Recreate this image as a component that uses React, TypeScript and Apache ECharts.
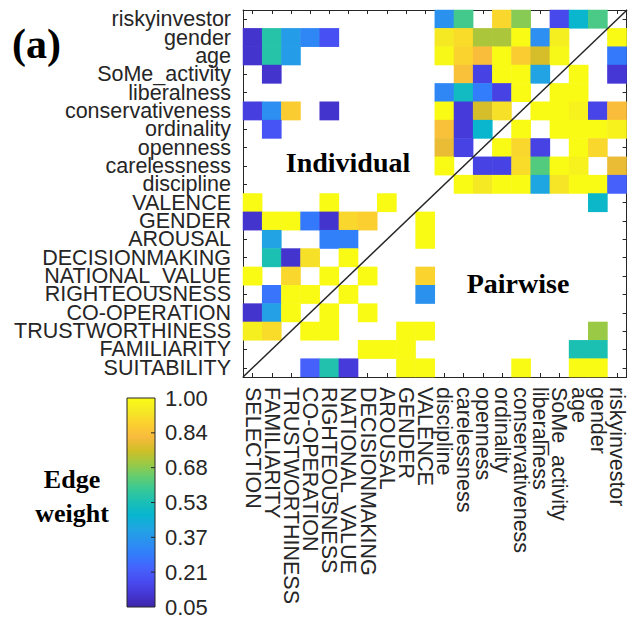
import React, { useEffect, useRef } from "react";
import * as echarts from "echarts";

const xCategories = [
  "SELECTION", "FAMILIARITY", "TRUSTWORTHINESS", "CO-OPERATION", "RIGHTEOUSNESS",
  "NATIONAL_VALUE", "DECISIONMAKING", "AROUSAL", "GENDER", "VALENCE",
  "discipline", "carelessness", "openness", "ordinality", "conservativeness",
  "liberalness", "SoMe_activity", "age", "gender", "riskyinvestor",
];
// bottom to top
const yCategories = [
  "SUITABILITY", "FAMILIARITY", "TRUSTWORTHINESS", "CO-OPERATION", "RIGHTEOUSNESS",
  "NATIONAL_VALUE", "DECISIONMAKING", "AROUSAL", "GENDER", "VALENCE",
  "discipline", "carelessness", "openness", "ordinality", "conservativeness",
  "liberalness", "SoMe_activity", "age", "gender", "riskyinvestor",
];

const _ = null;
// rows listed from top (riskyinvestor) to bottom (SUITABILITY); columns follow xCategories
const riskyinvestorRow = [_, _, _, _, _, _, _, _, _, _, 0.35, 0.6, _, 0.9, 0.68, _, 0.16, 0.47, 0.61, _];
const genderRow = [0.1, 0.55, 0.38, 0.32, 0.18, _, _, _, _, _, 0.94, 0.91, 0.72, 0.72, 1.0, 0.34, 0.96, _, _, 1.0];
const ageRow = [0.1, 0.55, 0.38, _, _, _, _, _, _, _, 0.99, 0.89, 0.83, 1.0, 0.87, 0.77, 0.99, _, _, 0.28];
const someActivityRow = [_, 0.1, _, _, _, _, _, _, _, _, _, 0.84, 0.14, 1.0, 1.0, 0.4, _, 1.0, _, 0.11];
const liberalnessRow = [_, _, _, _, _, _, _, _, _, _, 0.32, 0.5, 0.29, 0.14, 1.0, _, 1.0, 1.0, _, _];
const conservativenessRow = [0.13, 0.34, 0.87, _, 0.1, _, _, _, _, _, 1.0, 0.12, 0.77, 0.92, _, 1.0, 1.0, 0.97, 0.15, 0.83];
const ordinalityRow = [_, 0.19, _, _, _, _, _, _, _, _, 0.84, 0.12, 0.47, _, 1.0, _, 1.0, 1.0, 1.0, 0.97];
const opennessRow = [_, _, _, _, _, _, _, _, _, _, 0.8, 0.14, _, 1.0, 0.9, 0.14, _, 1.0, 0.9, _];
const carelessnessRow = [_, _, _, _, _, _, _, _, _, _, 1.0, _, 0.14, 0.14, 0.91, 0.62, 1.0, 0.97, _, 0.8];
const disciplineRow = [_, _, _, _, _, _, _, _, _, _, _, 1.0, 0.94, 1.0, 1.0, 0.41, 0.93, 1.0, 1.0, 0.22];
const valenceRow = [1.0, _, _, _, 1.0, _, _, 1.0, _, _, _, _, _, _, _, _, _, _, 0.48, _];
const genderUpperRow = [0.1, 1.0, 1.0, 0.28, 0.1, 0.9, 0.88, _, _, 1.0, _, _, _, _, _, _, _, _, _, _];
const arousalRow = [_, 0.4, _, _, 0.3, 0.3, _, _, _, 1.0, _, _, _, _, _, _, _, _, _, _];
const decisionmakingRow = [_, 0.53, 0.1, 0.92, _, 1.0, _, _, _, _, _, _, _, _, _, _, _, _, _, _];
const nationalValueRow = [1.0, _, 0.9, _, 1.0, _, 1.0, _, _, 0.89, _, _, _, _, _, _, _, _, _, _];
const righteousnessRow = [_, 0.27, 1.0, 1.0, _, 1.0, _, _, _, 0.35, _, _, _, _, _, _, _, _, _, _];
const cooperationRow = [0.1, 0.39, 1.0, _, 1.0, _, 1.0, _, _, _, _, _, _, _, _, _, _, _, _, _];
const trustworthinessRow = [0.96, 0.91, _, 1.0, 1.0, _, _, _, 1.0, 1.0, _, _, _, _, _, _, _, _, 0.7, _];
const familiarityRow = [_, _, _, _, _, _, 1.0, 1.0, 1.0, _, _, _, _, _, _, _, _, 0.53, 0.53, _];
const suitabilityRow = [_, _, _, 0.22, 0.54, 0.12, _, _, 1.0, 1.0, _, _, _, _, 1.0, _, _, 1.0, 1.0, _];

const rowsTopToBottom = [
  riskyinvestorRow, genderRow, ageRow, someActivityRow, liberalnessRow,
  conservativenessRow, ordinalityRow, opennessRow, carelessnessRow, disciplineRow,
  valenceRow, genderUpperRow, arousalRow, decisionmakingRow, nationalValueRow,
  righteousnessRow, cooperationRow, trustworthinessRow, familiarityRow, suitabilityRow,
];

const colorbarTicks = ["1.00", "0.84", "0.68", "0.53", "0.37", "0.21", "0.05"];
const valueMin = 0.05;
const valueMax = 1.0;

const parula = [
  "#3e26a8", "#4537d5", "#484cf0", "#4563fd", "#327cfc", "#2b91ef", "#20a5e3",
  "#08b5d0", "#19bfb6", "#37c897", "#64cd6f", "#9dc943", "#d1bf27", "#f8ba3d",
  "#fccf30", "#f5e924", "#f9fb15",
];

const sans = "'Liberation Sans', Arial, Helvetica, sans-serif";
const serif = "'Liberation Serif', 'Times New Roman', serif";
const ink = "#262626";

export default function App() {
  const ref = useRef<HTMLDivElement>(null);
  useEffect(() => {
    if (!ref.current) return;
    const chart = echarts.init(ref.current, undefined, { renderer: "svg" });
    const n = yCategories.length;
    const data: [number, number, number][] = [];
    rowsTopToBottom.forEach((row, rt) =>
      row.forEach((v, c) => {
        if (v !== null && v !== undefined) data.push([c, n - 1 - rt, v as number]);
      })
    );

    const cbX = 127, cbY = 398, cbW = 28, cbH = 209;
    const stops = parula.map((c, i) => ({ offset: i / (parula.length - 1), color: parula[parula.length - 1 - i] }));
    const graphics: any[] = [
      {
        type: "rect",
        shape: { x: cbX, y: cbY, width: cbW, height: cbH },
        style: { fill: new echarts.graphic.LinearGradient(0, 0, 0, 1, stops), stroke: ink, lineWidth: 1 },
      },
    ];
    colorbarTicks.forEach((t, i) => {
      const y = cbY + (i * cbH) / (colorbarTicks.length - 1);
      if (i > 0 && i < colorbarTicks.length - 1) {
        graphics.push({ type: "line", shape: { x1: cbX + cbW - 4, y1: y, x2: cbX + cbW, y2: y }, style: { stroke: ink, lineWidth: 1 } });
      }
      graphics.push({
        type: "text", x: 165, y,
        style: { text: t, fontFamily: sans, fontSize: 22, fill: ink, textAlign: "left", textVerticalAlign: "middle" },
      });
    });
    graphics.push(
      { type: "text", x: 12, y: 44, style: { text: "(a)", fontFamily: serif, fontWeight: "bold", fontSize: 42, fill: "#000", textAlign: "left", textVerticalAlign: "middle" } },
      { type: "text", x: 72, y: 479, style: { text: "Edge", fontFamily: serif, fontWeight: "bold", fontSize: 26, fill: "#000", textAlign: "center", textVerticalAlign: "middle" } },
      { type: "text", x: 72, y: 513, style: { text: "weight", fontFamily: serif, fontWeight: "bold", fontSize: 26, fill: "#000", textAlign: "center", textVerticalAlign: "middle" } },
      { type: "text", x: 348, y: 162, z: 10, style: { text: "Individual", fontFamily: serif, fontWeight: "bold", fontSize: 28, fill: "#000", textAlign: "center", textVerticalAlign: "middle" } },
      { type: "text", x: 518, y: 283, z: 10, style: { text: "Pairwise", fontFamily: serif, fontWeight: "bold", fontSize: 28, fill: "#000", textAlign: "center", textVerticalAlign: "middle" } }
    );

    const gridPos = { left: 243, top: 10, right: 1, bottom: 243 };
    const catAxisCommon = {
      type: "category" as const,
      gridIndex: 0,
      axisLine: { show: true, lineStyle: { color: ink, width: 1 } },
      axisTick: { show: true, inside: true, alignWithLabel: true, length: 4, interval: 0, lineStyle: { color: ink } },
      splitLine: { show: false },
    };

    chart.setOption({
      animation: false,
      backgroundColor: "#ffffff",
      grid: [
        { ...gridPos, containLabel: false },
        { ...gridPos, containLabel: false },
      ],
      xAxis: [
        {
          ...catAxisCommon, data: xCategories, position: "bottom",
          axisLabel: { interval: 0, rotate: -90, margin: 10, fontFamily: sans, fontSize: 21.5, color: ink },
        },
        { ...catAxisCommon, data: xCategories, position: "top", axisLabel: { show: false } },
        { type: "value", gridIndex: 1, min: 0, max: 1, show: false },
      ],
      yAxis: [
        {
          ...catAxisCommon, data: yCategories, position: "left",
          axisLabel: { interval: 0, margin: 12, fontFamily: sans, fontSize: 21.5, color: ink },
        },
        { ...catAxisCommon, data: yCategories, position: "right", axisLabel: { show: false } },
        { type: "value", gridIndex: 1, min: 0, max: 1, show: false },
      ],
      visualMap: {
        show: false, type: "continuous", min: valueMin, max: valueMax, dimension: 2, seriesIndex: 0,
        inRange: { color: parula },
      },
      series: [
        { type: "heatmap", xAxisIndex: 0, yAxisIndex: 0, data, itemStyle: { borderWidth: 0 }, emphasis: { disabled: true } },
        {
          type: "line", xAxisIndex: 2, yAxisIndex: 2, data: [[0, 0], [1, 1]], symbol: "none", z: 5,
          lineStyle: { color: ink, width: 1.5 },
        },
      ],
      graphic: graphics,
    });
    return () => chart.dispose();
  }, []);
  return <div ref={ref} style={{ position: "absolute", left: 0, top: 0, width: 628, height: 620 }} />;
}
